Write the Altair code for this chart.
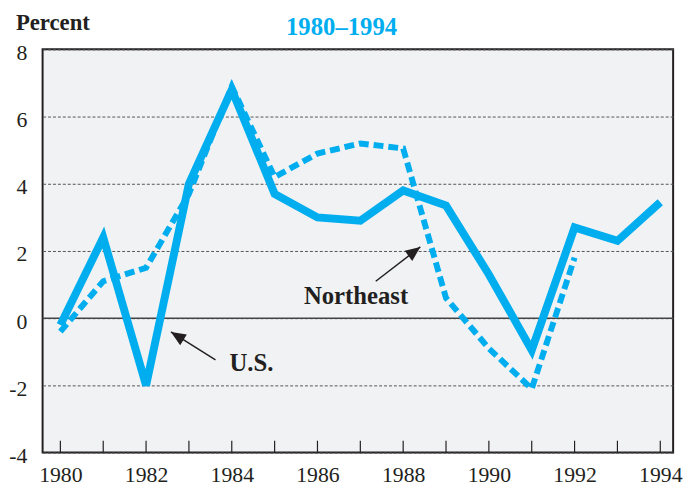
import altair as alt
import pandas as pd

# ---- data ----
years = list(range(1980, 1995))
us = [-0.2, 2.4, -2.0, 4.0, 6.8, 3.7, 3.0, 2.9, 3.8, 3.35, 1.3, -0.95, 2.7, 2.3, 3.45]
northeast = [-0.4, 1.1, 1.5, 3.7, 6.9, 4.2, 4.9, 5.2, 5.05, 0.6, -0.9, -2.1, 1.8, None, None]
label_years = [1980, 1982, 1984, 1986, 1988, 1990, 1992, 1994]
y_ticks = [-4, -2, 0, 2, 4, 6, 8]

# annotation texts (data coordinates)
ann_label = ["Northeast", "U.S."]
ann_year = [1986.9, 1984.46]
ann_value = [0.41, -1.56]

# arrows: tail -> tip (data coordinates), heading angle of arrowhead
arrow_id = ["ne", "ne", "us", "us"]
arrow_ord = [0, 1, 0, 1]
arrow_year = [1987.36, 1988.40, 1983.62, 1982.58]
arrow_value = [1.10, 2.12, -1.24, -0.41]
arrow_angle = [53, 53, 302, 302]

rows = []
for yr, u, n in zip(years, us, northeast):
    rows.append({"year": yr, "series": "U.S.", "value": u})
    if n is not None:
        rows.append({"year": yr, "series": "Northeast", "value": n})
df = pd.DataFrame(rows)

ann_df = pd.DataFrame({"label": ann_label, "year": ann_year, "value": ann_value})
arr_df = pd.DataFrame({"id": arrow_id, "ord": arrow_ord, "year": arrow_year,
                       "value": arrow_value, "angle": arrow_angle})
tips_df = arr_df[arr_df["ord"] == 1]
tick_df = pd.DataFrame({"year": years})

CYAN = "#00aeef"
INK = "#231f20"
SERIF = "Liberation Serif"
W, H = 638, 408

xs = alt.Scale(domain=[1979.585, 1994.3], nice=False, zero=False)
ys = alt.Scale(domain=[-4, 8], nice=False, zero=False)

xaxis = alt.Axis(values=label_years, title=None, ticks=False, domain=False, grid=False,
                 labelFont=SERIF, labelFontSize=22, labelColor=INK, labelPadding=12,
                 labelExpr="'' + datum.value")
yaxis = alt.Axis(values=y_ticks, title=None, ticks=False, domain=False, grid=True,
                 gridDash=[3, 2], gridColor="#555555", gridWidth=1,
                 labelFont=SERIF, labelFontSize=22, labelColor=INK, labelPadding=16,
                 labelOffset=3, labelExpr="'' + datum.value")


def X(field="year"):
    return alt.X(f"{field}:Q", scale=xs, axis=xaxis)


def Y(field="value"):
    return alt.Y(f"{field}:Q", scale=ys, axis=yaxis)


zero = alt.Chart(pd.DataFrame({"value": [0]})).mark_rule(color="#444444", strokeWidth=1.5).encode(
    y=Y()
)

ticks = alt.Chart(tick_df).mark_rule(color=INK, strokeWidth=1.2).encode(
    x=X(), y=alt.value(H), y2=alt.value(H - 12)
)

ne_line = alt.Chart(df).transform_filter(alt.datum.series == "Northeast").mark_line(
    color=CYAN, strokeWidth=6, strokeDash=[10, 5], strokeCap="butt"
).encode(x=X(), y=Y())

us_line = alt.Chart(df).transform_filter(alt.datum.series == "U.S.").mark_line(
    color=CYAN, strokeWidth=8, strokeCap="butt"
).encode(x=X(), y=Y())

arrow_lines = alt.Chart(arr_df).mark_line(color=INK, strokeWidth=1.5).encode(
    x=X(), y=Y(), detail="id:N", order="ord:Q"
)

arrow_heads = alt.Chart(tips_df).mark_point(
    shape="M0,0L0.85,2L-0.85,2Z", filled=True, size=225, color=INK, opacity=1, strokeWidth=0
).encode(x=X(), y=Y(), angle=alt.Angle("angle:Q", scale=None))

ann_text = alt.Chart(ann_df).mark_text(
    font=SERIF, fontSize=25, fontWeight="bold", color=INK, align="center", baseline="alphabetic"
).encode(x=X(), y=Y(), text="label:N")

percent = alt.Chart(pd.DataFrame({"t": ["Percent"]})).mark_text(
    font=SERIF, fontSize=23, fontWeight="bold", color=INK, align="left", baseline="alphabetic"
).encode(x=alt.value(-27), y=alt.value(-20), text="t:N")

title = alt.Chart(pd.DataFrame({"t": ["1980\u20131994"]})).mark_text(
    font=SERIF, fontSize=25, fontWeight="bold", color=CYAN, align="center", baseline="alphabetic"
).encode(x=alt.value(302.5), y=alt.value(-15), text="t:N")

chart = alt.layer(
    zero, ticks, ne_line, us_line, arrow_lines, arrow_heads, ann_text, percent, title
).properties(
    width=W, height=H,
    background="white",
    autosize=alt.AutoSizeParams(type="none"),
    padding={"left": 35, "top": 39, "right": 11, "bottom": 35},
).configure_view(
    stroke=INK, strokeWidth=2, fill="#f1f2f4"
)

chart.save("out.html", embed_options={"renderer": "svg", "actions": False})
